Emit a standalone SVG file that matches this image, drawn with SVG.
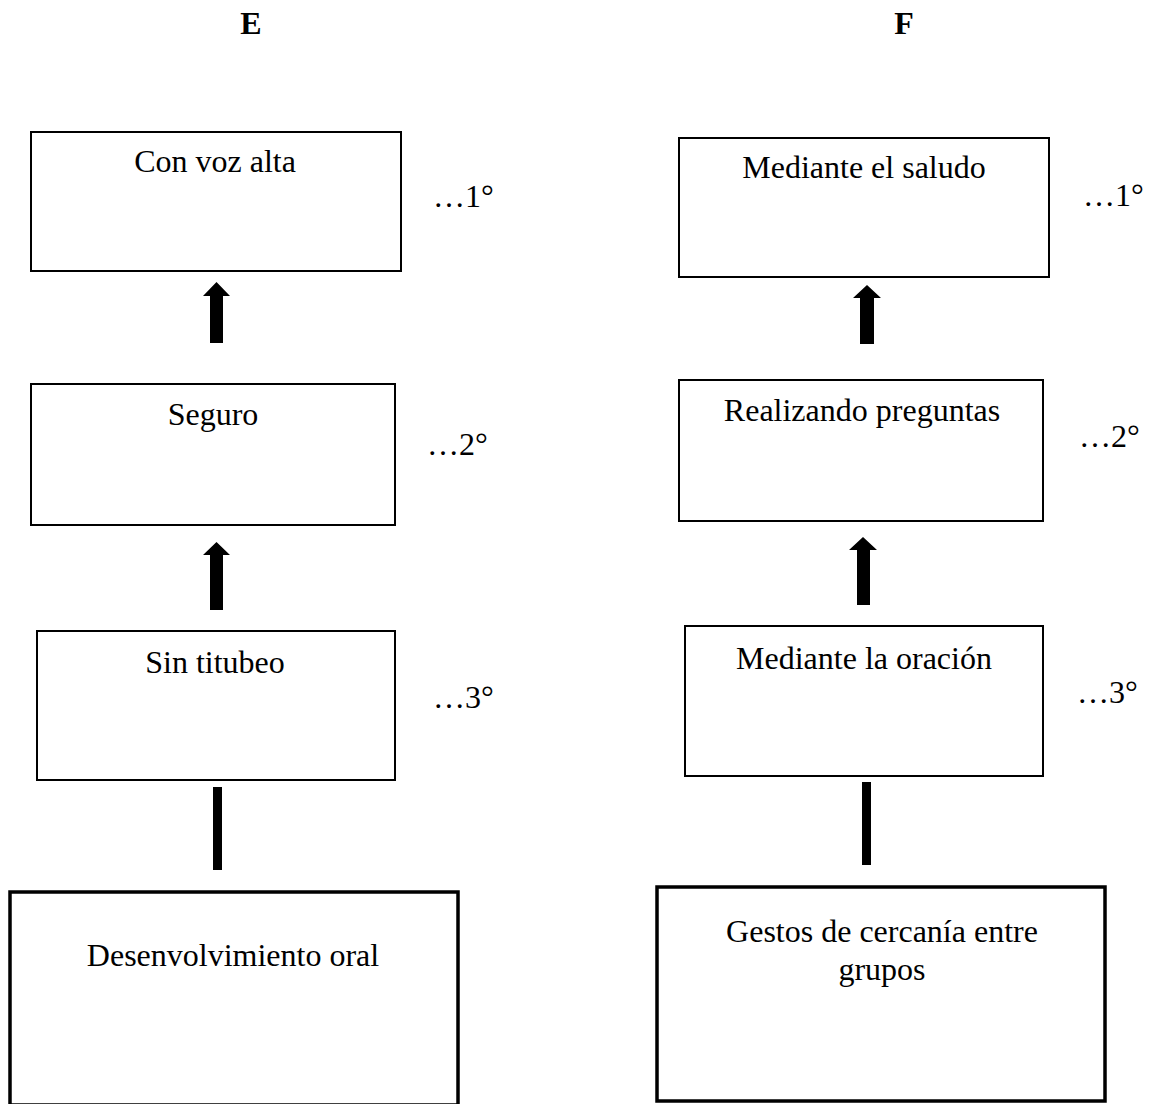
<svg xmlns="http://www.w3.org/2000/svg" width="1152" height="1104" viewBox="0 0 1152 1104">
<style>
.box{fill:#fff;stroke:#000;stroke-width:2}
.big{fill:#fff;stroke:#000;stroke-width:3.5}
.t{font-family:"Liberation Serif","Times New Roman",serif;font-size:32px;fill:#000}
.c{text-anchor:middle}
.h{font-weight:bold;text-anchor:middle}
.con{fill:#000}
</style>
<rect width="1152" height="1104" fill="#fff"/>
<g id="titles">
<text class="t h" x="251" y="34">E</text>
<text class="t h" x="904" y="34">F</text>
</g>
<g id="connectors">
<polygon class="con" points="216.5,282 230,296 223,296 223,343 210,343 210,296 203,296"/>
<polygon class="con" points="216.5,542 230,555 223,555 223,610 210,610 210,555 203,555"/>
<rect class="con" x="213" y="787" width="9" height="83"/>
<polygon class="con" points="867,285 881,298 874,298 874,344 860,344 860,298 853,298"/>
<polygon class="con" points="863,537 877,550 870,550 870,605 857,605 857,550 849,550"/>
<rect class="con" x="862" y="782" width="9" height="83"/>
</g>
<g id="E1">
<rect class="box" x="31" y="132" width="370" height="139"/>
<text class="t c" x="215" y="172">Con voz alta</text>
<text class="t" x="433" y="207">…1°</text>
</g>
<g id="E2">
<rect class="box" x="31" y="384" width="364" height="141"/>
<text class="t c" x="213" y="425">Seguro</text>
<text class="t" x="427" y="455">…2°</text>
</g>
<g id="E3">
<rect class="box" x="37" y="631" width="358" height="149"/>
<text class="t c" x="215" y="673">Sin titubeo</text>
<text class="t" x="433" y="708">…3°</text>
</g>
<g id="E4">
<rect class="big" x="10" y="892" width="448" height="213"/>
<text class="t c" x="233" y="966">Desenvolvimiento oral</text>
</g>
<g id="F1">
<rect class="box" x="679" y="138" width="370" height="139"/>
<text class="t c" x="864" y="178">Mediante el saludo</text>
<text class="t" x="1083" y="206">…1°</text>
</g>
<g id="F2">
<rect class="box" x="679" y="380" width="364" height="141"/>
<text class="t c" x="862" y="421">Realizando preguntas</text>
<text class="t" x="1079" y="447">…2°</text>
</g>
<g id="F3">
<rect class="box" x="685" y="626" width="358" height="150"/>
<text class="t c" x="864" y="669">Mediante la oración</text>
<text class="t" x="1077" y="703">…3°</text>
</g>
<g id="F4">
<rect class="big" x="657" y="887" width="448" height="214"/>
<text class="t c" x="882" y="942">Gestos de cercanía entre</text>
<text class="t c" x="882" y="980">grupos</text>
</g>
</svg>
